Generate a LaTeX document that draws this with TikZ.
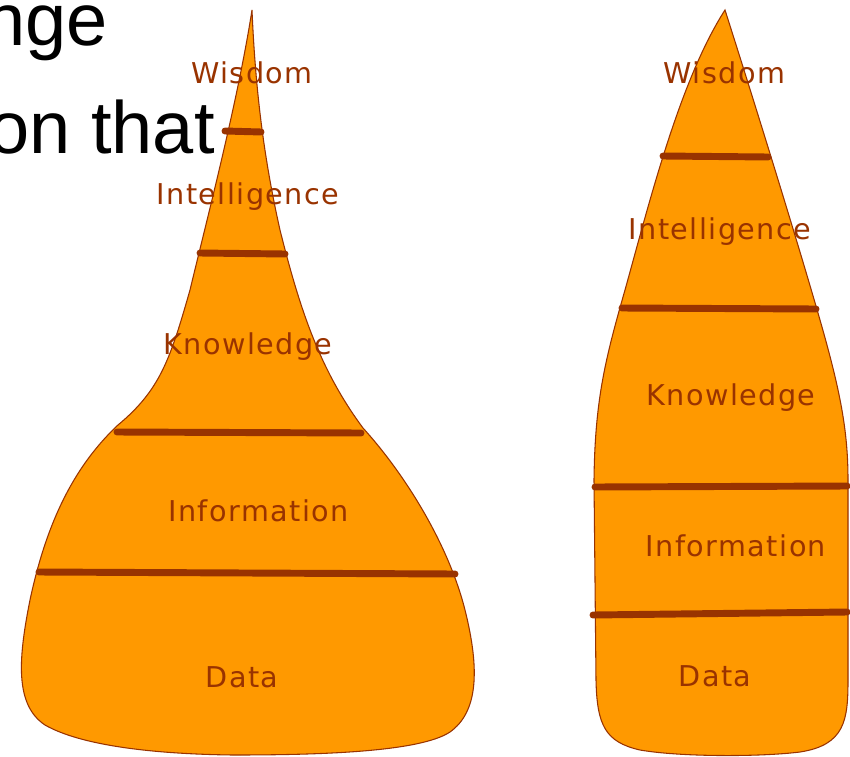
\documentclass[tikz,border=0pt]{standalone}
\usepackage{fontspec}
\setmainfont{Liberation Sans}
\newfontfamily\lblfont[LetterSpace=5]{DejaVu Sans}
\definecolor{fillor}{HTML}{FF9900}
\definecolor{brn}{HTML}{993300}
\tikzset{
  blob/.style={fill=fillor, draw=brn, line width=0.8pt},
  band/.style={draw=brn, line width=5.2pt, line cap=round},
  lvl/.style={anchor=base, inner sep=0pt, text=brn, font=\lblfont\fontsize{21.5}{24}\selectfont},
  bigtxt/.style={anchor=base east, inner sep=0pt, text=black, font=\fontsize{55.5}{60}\selectfont}
}
\begin{document}
\begin{tikzpicture}[x=0.75pt,y=-0.75pt]
\useasboundingbox (0,0) rectangle (850,757);
\clip (0,0) rectangle (850,757);
\fill[white] (0,0) rectangle (850,757);

% background slide text
\node[bigtxt] (t1) at (108,45) {nge};
\node[bigtxt] (t2) at (215,153) {on that};

% left shape
\path[blob] (252,10) .. controls (255,80) and (262,150) .. (280,230)
  .. controls (300,310) and (320,370) .. (363,428)
  .. controls (410,480) and (450,550) .. (465,610)
  .. controls (480,670) and (478,712) .. (450,732)
  .. controls (420,752) and (320,755) .. (233,755)
  .. controls (150,754) and (80,745) .. (45,725)
  .. controls (15,705) and (18,660) .. (30,600)
  .. controls (45,530) and (70,470) .. (118,425)
  .. controls (160,390) and (170,360) .. (190,290)
  .. controls (208,215) and (238,100) .. (252,10) -- cycle;

% right shape
\path[blob] (725,10) .. controls (760,120) and (800,250) .. (820,320)
  .. controls (840,390) and (848,430) .. (848,480)
  -- (848,680)
  .. controls (848,720) and (845,745) .. (800,752)
  .. controls (760,757) and (680,757) .. (640,750)
  .. controls (605,742) and (597,725) .. (596,680)
  -- (594,480)
  .. controls (595,400) and (605,360) .. (625,290)
  .. controls (650,200) and (680,80) .. (725,10) -- cycle;

% band end points
\coordinate (La1) at (225,131); \coordinate (Lb1) at (261,132);
\coordinate (La2) at (200,253); \coordinate (Lb2) at (285,254);
\coordinate (La3) at (117,432); \coordinate (Lb3) at (361,433);
\coordinate (La4) at (39,572);  \coordinate (Lb4) at (455,574);
\coordinate (Ra1) at (663,156); \coordinate (Rb1) at (768,157);
\coordinate (Ra2) at (622,308); \coordinate (Rb2) at (816,309);
\coordinate (Ra3) at (595,487); \coordinate (Rb3) at (847,486);
\coordinate (Ra4) at (593,615); \coordinate (Rb4) at (847,612);
\foreach \s in {L,R}{\foreach \i in {1,...,4}{\draw[band] (\s a\i) -- (\s b\i);}}

% labels left
\node[lvl] (lw) at (252,83) {Wisdom};
\node[lvl] (li) at (248,204) {Intelligence};
\node[lvl] (lk) at (248,354) {Knowledge};
\node[lvl] (lf) at (258.5,521) {Information};
\node[lvl] (ld) at (242,687) {Data};
% labels right
\node[lvl] (rw) at (724.5,83) {Wisdom};
\node[lvl] (ri) at (720,239) {Intelligence};
\node[lvl] (rk) at (731,405) {Knowledge};
\node[lvl] (rf) at (736,556) {Information};
\node[lvl] (rd) at (715,686) {Data};
\end{tikzpicture}
\end{document}
